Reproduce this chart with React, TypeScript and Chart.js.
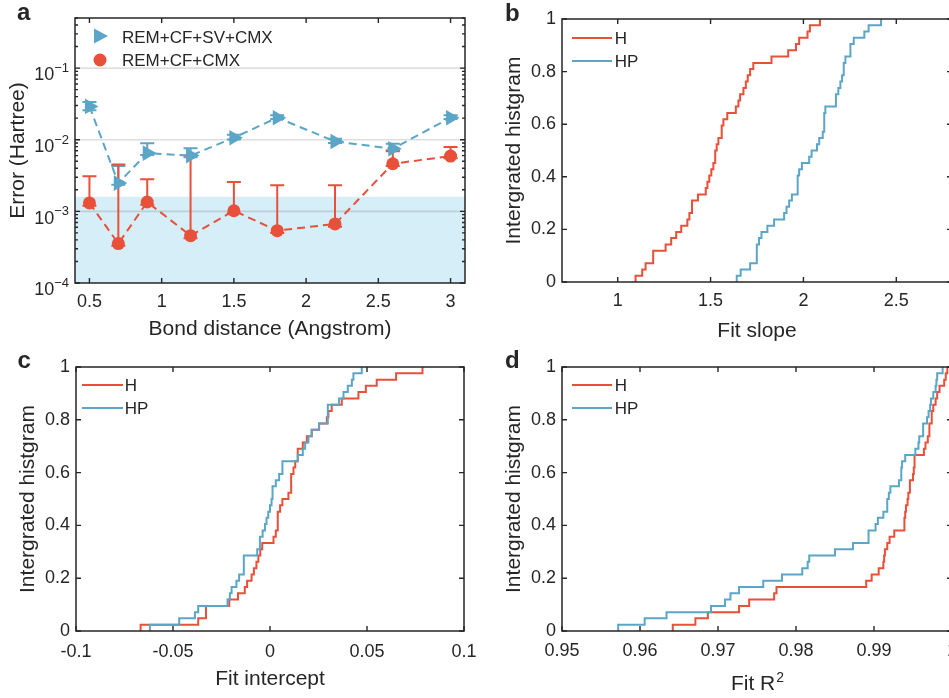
import React, { useEffect, useRef } from 'react';
import { Chart, registerables } from 'chart.js';

Chart.register(...registerables);

const FONT = '"Liberation Sans", Arial, Helvetica, sans-serif';
const INK = '#262626';
const RED = '#e8503a';
const BLUE = '#5ba6c6';
const SHADE = '#d6eef8';

// ---------- Panel a ----------
const SERIES_A = ['REM+CF+SV+CMX', 'REM+CF+CMX'];
const BOND_DISTANCE = [0.5, 0.7, 0.9, 1.2, 1.5, 1.8, 2.2, 2.6, 3.0];
const ERR_SV = [0.0292, 0.00248, 0.0065, 0.006, 0.01066, 0.0203, 0.00946, 0.00749, 0.0203];
const ERR_SV_HIGH = [0.0336, 0.0043, 0.0089, 0.0076, 0.0117, 0.0219, 0.0103, 0.0088, 0.0219];
const ERR_SV_LOW = [0.0257, 0.00235, 0.0061, 0.0057, 0.0101, 0.0194, 0.009, 0.0071, 0.0194];
const ERR_CMX = [0.00131, 0.000355, 0.00135, 0.000458, 0.00102, 0.000538, 0.000667, 0.00462, 0.00591];
const ERR_CMX_HIGH = [0.00308, 0.00452, 0.0028, 0.006, 0.00256, 0.00231, 0.00231, 0.00693, 0.00789];
const ERR_CMX_LOW = [0.0012, 0.00033, 0.00124, 0.00042, 0.00094, 0.0005, 0.00061, 0.0043, 0.0055];
const CHEM_ACCURACY = 1.6e-3;
const LOG_DECADES = [1e-4, 1e-3, 1e-2, 1e-1];
const LOG_EXPONENTS = ['\u22124', '\u22123', '\u22122', '\u22121'];
const A_X_TICKS = [0.5, 1, 1.5, 2, 2.5, 3];
const A_X_LABELS = ['0.5', '1', '1.5', '2', '2.5', '3'];

// ---------- Common for b, c, d ----------
const STEP_SERIES = ['H', 'HP'];
const HIST_TICKS = [0, 0.2, 0.4, 0.6, 0.8, 1];
const HIST_LABELS = ['0', '0.2', '0.4', '0.6', '0.8', '1'];

// ---------- Panel b (Fit slope) ----------
const B_X_TICKS = [1, 1.5, 2, 2.5];
const B_X_LABELS = ['1', '1.5', '2', '2.5'];
const B_H_X = [1.096, 1.096, 1.132, 1.15, 1.191, 1.258, 1.288, 1.315, 1.342, 1.375, 1.386, 1.4, 1.432, 1.474, 1.483, 1.493, 1.504, 1.515, 1.525, 1.533, 1.542, 1.56, 1.569, 1.59, 1.636, 1.65, 1.659, 1.677, 1.69, 1.7, 1.713, 1.73, 1.828, 1.918, 1.96, 1.977, 2.022, 2.035, 2.089];
const B_H_Y = [0, 0.024, 0.048, 0.071, 0.119, 0.143, 0.167, 0.19, 0.214, 0.238, 0.262, 0.31, 0.333, 0.357, 0.381, 0.405, 0.429, 0.452, 0.5, 0.524, 0.548, 0.595, 0.619, 0.643, 0.667, 0.69, 0.714, 0.738, 0.762, 0.786, 0.81, 0.833, 0.857, 0.881, 0.905, 0.929, 0.952, 0.976, 1.0];
const B_HP_X = [1.641, 1.641, 1.662, 1.713, 1.749, 1.761, 1.774, 1.806, 1.842, 1.896, 1.909, 1.923, 1.938, 1.969, 1.977, 1.992, 2.031, 2.044, 2.073, 2.085, 2.104, 2.112, 2.118, 2.175, 2.188, 2.199, 2.208, 2.217, 2.226, 2.253, 2.271, 2.328, 2.351, 2.418];
const B_HP_Y = [0, 0.024, 0.048, 0.071, 0.143, 0.167, 0.19, 0.214, 0.238, 0.262, 0.286, 0.31, 0.333, 0.405, 0.429, 0.452, 0.476, 0.5, 0.524, 0.548, 0.571, 0.643, 0.667, 0.714, 0.738, 0.762, 0.786, 0.833, 0.857, 0.905, 0.929, 0.952, 0.976, 1.0];

// ---------- Panel c (Fit intercept) ----------
const C_X_TICKS = [-0.1, -0.05, 0, 0.05, 0.1];
const C_X_LABELS = ['-0.1', '-0.05', '0', '0.05', '0.1'];
const C_H_X = [-0.0667, -0.0667, -0.037, -0.033, -0.021, -0.0165, -0.013, -0.0118, -0.0095, -0.0083, -0.007, -0.006, -0.005, -0.004, 0.0018, 0.003, 0.004, 0.0052, 0.0064, 0.0095, 0.0109, 0.0121, 0.013, 0.0143, 0.0169, 0.019, 0.0215, 0.0253, 0.0293, 0.0301, 0.0318, 0.037, 0.0456, 0.0494, 0.055, 0.065, 0.0786];
const C_H_Y = [0, 0.024, 0.048, 0.095, 0.119, 0.143, 0.167, 0.19, 0.214, 0.238, 0.262, 0.286, 0.31, 0.333, 0.357, 0.381, 0.452, 0.476, 0.5, 0.524, 0.595, 0.619, 0.643, 0.69, 0.714, 0.738, 0.762, 0.786, 0.81, 0.833, 0.857, 0.881, 0.905, 0.929, 0.952, 0.976, 1.0];
const C_HP_X = [-0.0619, -0.0619, -0.0468, -0.0387, -0.037, -0.0219, -0.0207, -0.0198, -0.0173, -0.0159, -0.0135, -0.0066, -0.0052, -0.0038, -0.0026, -0.0018, -0.0009, 0.0, 0.0008, 0.0013, 0.003, 0.0047, 0.0064, 0.0143, 0.0169, 0.0181, 0.0198, 0.0215, 0.0253, 0.0298, 0.0356, 0.0379, 0.0401, 0.0422, 0.043, 0.0473];
const C_HP_Y = [0, 0.024, 0.048, 0.071, 0.095, 0.119, 0.143, 0.167, 0.19, 0.214, 0.286, 0.31, 0.357, 0.381, 0.405, 0.429, 0.452, 0.476, 0.5, 0.548, 0.571, 0.595, 0.643, 0.667, 0.69, 0.714, 0.738, 0.762, 0.786, 0.857, 0.881, 0.905, 0.929, 0.952, 0.976, 1.0];

// ---------- Panel d (Fit R^2) ----------
const D_X_TICKS = [0.95, 0.96, 0.97, 0.98, 0.99, 1.0];
const D_X_LABELS = ['0.95', '0.96', '0.97', '0.98', '0.99', '1'];
const D_H_X = [0.9642, 0.9642, 0.9671, 0.9687, 0.9727, 0.974, 0.9772, 0.9775, 0.989, 0.9897, 0.9906, 0.9912, 0.9913, 0.9914, 0.9917, 0.992, 0.9926, 0.9939, 0.994, 0.9941, 0.9943, 0.9944, 0.9946, 0.995, 0.9951, 0.9952, 0.9964, 0.9966, 0.9969, 0.9971, 0.9974, 0.9976, 0.9979, 0.9981, 0.9984, 0.999, 0.9992, 0.9994];
const D_H_Y = [0, 0.024, 0.048, 0.071, 0.095, 0.119, 0.143, 0.167, 0.19, 0.214, 0.238, 0.262, 0.286, 0.31, 0.333, 0.357, 0.381, 0.429, 0.452, 0.476, 0.5, 0.524, 0.571, 0.595, 0.619, 0.667, 0.69, 0.714, 0.738, 0.786, 0.833, 0.857, 0.881, 0.905, 0.929, 0.952, 0.976, 1.0];
const D_HP_X = [0.9572, 0.9572, 0.9606, 0.9634, 0.9691, 0.9709, 0.9716, 0.9727, 0.9758, 0.9782, 0.9808, 0.9815, 0.9817, 0.985, 0.9873, 0.9893, 0.9902, 0.9905, 0.9912, 0.9917, 0.9919, 0.9921, 0.9932, 0.9935, 0.9936, 0.994, 0.9953, 0.9957, 0.9958, 0.9963, 0.9968, 0.997, 0.9972, 0.9973, 0.9976, 0.9979, 0.998, 0.9981, 0.9988];
const D_HP_Y = [0, 0.024, 0.048, 0.071, 0.095, 0.119, 0.143, 0.167, 0.19, 0.214, 0.238, 0.262, 0.286, 0.31, 0.333, 0.381, 0.405, 0.429, 0.452, 0.5, 0.524, 0.548, 0.571, 0.619, 0.643, 0.667, 0.69, 0.714, 0.738, 0.786, 0.81, 0.833, 0.857, 0.881, 0.905, 0.929, 0.952, 0.976, 1.0];

// ---------- helpers ----------
const fitX = (h: number) => (s: any) => {
  s.height = h;
  s.paddingLeft = 0; s.paddingRight = 0; s.paddingTop = 0; s.paddingBottom = 0;
};
const fitY = (w: number) => (s: any) => {
  s.width = w;
  s.paddingLeft = 0; s.paddingRight = 0; s.paddingTop = 0; s.paddingBottom = 0;
};

function linScale(axis: 'x' | 'y', min: number, max: number, ticks: number[], labels: string[], pad: number, size: number) {
  return {
    type: 'linear',
    min,
    max,
    grid: { display: false, drawTicks: false },
    border: { display: false },
    ticks: {
      font: { family: FONT, size: 18 },
      color: INK,
      padding: pad,
      maxRotation: 0,
      minRotation: 0,
      autoSkip: false,
      callback: (_v: any, i: number) => labels[i] ?? '',
    },
    afterBuildTicks: (s: any) => {
      s.ticks = ticks.map((v) => ({ value: v }));
    },
    afterFit: axis === 'x' ? fitX(size) : fitY(size),
  };
}

function baseOptions(top: number, right: number, scales: any) {
  return {
    responsive: false,
    maintainAspectRatio: false,
    animation: false,
    devicePixelRatio: 1,
    events: [],
    layout: { padding: { left: 0, top, right, bottom: 0 } },
    plugins: { legend: { display: false }, tooltip: { enabled: false } },
    scales,
  };
}

function stepDataset(label: string, xs: number[], ys: number[], color: string, order: number) {
  return {
    label,
    data: xs.map((x, i) => ({ x, y: ys[i] })),
    borderColor: color,
    backgroundColor: color,
    borderWidth: 2,
    pointRadius: 0,
    stepped: 'before',
    fill: false,
    order,
    clip: false,
  };
}

type FrameOpts = {
  xTicks: number[];
  yTicks: number[];
  yMinor?: number[];
  xTitle: string;
  xTitleSup?: string;
  xTitleBase: number;
  yTitle: string;
  yTitleX: number;
  letter: string;
  letterX: number;
  letterBase: number;
  legend: (ctx: CanvasRenderingContext2D) => void;
  logLabels?: boolean;
};

function framePlugin(o: FrameOpts) {
  return {
    id: 'frame',
    afterDraw(chart: any) {
      const { ctx, chartArea: a, scales } = chart;
      const sx = scales.x;
      const sy = scales.y;
      ctx.save();
      ctx.strokeStyle = INK;
      ctx.lineWidth = 1.5;
      ctx.strokeRect(a.left, a.top, a.right - a.left, a.bottom - a.top);
      ctx.lineWidth = 1.4;
      ctx.beginPath();
      for (const v of o.xTicks) {
        const p = sx.getPixelForValue(v);
        ctx.moveTo(p, a.bottom); ctx.lineTo(p, a.bottom - 5);
        ctx.moveTo(p, a.top); ctx.lineTo(p, a.top + 5);
      }
      for (const v of o.yTicks) {
        const p = sy.getPixelForValue(v);
        ctx.moveTo(a.left, p); ctx.lineTo(a.left + 5, p);
        ctx.moveTo(a.right, p); ctx.lineTo(a.right - 5, p);
      }
      for (const v of o.yMinor || []) {
        const p = sy.getPixelForValue(v);
        ctx.moveTo(a.left, p); ctx.lineTo(a.left + 3, p);
        ctx.moveTo(a.right, p); ctx.lineTo(a.right - 3, p);
      }
      ctx.stroke();

      ctx.fillStyle = INK;
      if (o.logLabels) {
        const rightX = a.left - 6;
        LOG_DECADES.forEach((v, i) => {
          const p = sy.getPixelForValue(v);
          ctx.font = `13px ${FONT}`;
          const exp = LOG_EXPONENTS[i];
          const ew = ctx.measureText(exp).width;
          ctx.textAlign = 'left';
          ctx.textBaseline = 'alphabetic';
          ctx.fillText(exp, rightX - ew, p + 4);
          ctx.font = `18px ${FONT}`;
          ctx.textAlign = 'right';
          ctx.fillText('10', rightX - ew, p + 12.3);
        });
      }

      const cx = (a.left + a.right) / 2;
      ctx.textBaseline = 'alphabetic';
      ctx.font = `21px ${FONT}`;
      const mainW = ctx.measureText(o.xTitle).width;
      let supW = 0;
      if (o.xTitleSup) {
        ctx.font = `14px ${FONT}`;
        supW = ctx.measureText(o.xTitleSup).width;
      }
      const startX = cx - (mainW + supW) / 2;
      ctx.font = `21px ${FONT}`;
      ctx.textAlign = 'left';
      ctx.fillText(o.xTitle, startX, o.xTitleBase);
      if (o.xTitleSup) {
        ctx.font = `14px ${FONT}`;
        ctx.fillText(o.xTitleSup, startX + mainW + 1, o.xTitleBase - 8.5);
      }

      ctx.save();
      ctx.translate(o.yTitleX, (a.top + a.bottom) / 2);
      ctx.rotate(-Math.PI / 2);
      ctx.font = `21px ${FONT}`;
      ctx.textAlign = 'center';
      ctx.fillText(o.yTitle, 0, 0);
      ctx.restore();

      ctx.font = `bold 24px ${FONT}`;
      ctx.textAlign = 'left';
      ctx.fillText(o.letter, o.letterX, o.letterBase);

      o.legend(ctx);
      ctx.restore();
    },
  };
}

function lineLegend(x0: number, x1: number, textX: number, y1: number, y2: number) {
  return (ctx: CanvasRenderingContext2D) => {
    const cols = [RED, BLUE];
    const ys = [y1, y2];
    ctx.lineWidth = 2;
    cols.forEach((c, i) => {
      ctx.strokeStyle = c;
      ctx.beginPath();
      ctx.moveTo(x0, ys[i]);
      ctx.lineTo(x1, ys[i]);
      ctx.stroke();
    });
    ctx.fillStyle = INK;
    ctx.font = `17px ${FONT}`;
    ctx.textAlign = 'left';
    ctx.textBaseline = 'alphabetic';
    STEP_SERIES.forEach((s, i) => ctx.fillText(s, textX, ys[i] + 6.3));
  };
}

function makeA() {
  const minor: number[] = [];
  for (const d of LOG_DECADES) {
    for (let m = 2; m <= 9; m++) if (m * d <= 0.5) minor.push(m * d);
  }
  const errorBars = {
    id: 'errbars',
    beforeDatasetsDraw(chart: any) {
      const { ctx, chartArea: a, scales } = chart;
      const sx = scales.x;
      const sy = scales.y;
      ctx.save();
      const yb = sy.getPixelForValue(CHEM_ACCURACY);
      ctx.fillStyle = SHADE;
      ctx.fillRect(a.left, yb, a.right - a.left, a.bottom - yb);
      ctx.strokeStyle = 'rgba(0,0,0,0.13)';
      ctx.lineWidth = 1.6;
      ctx.beginPath();
      for (const v of LOG_DECADES.slice(1)) {
        const p = sy.getPixelForValue(v);
        ctx.moveTo(a.left, p);
        ctx.lineTo(a.right, p);
      }
      ctx.stroke();
      const sets = [
        { lo: ERR_SV_LOW, hi: ERR_SV_HIGH, c: BLUE },
        { lo: ERR_CMX_LOW, hi: ERR_CMX_HIGH, c: RED },
      ];
      ctx.lineWidth = 2;
      for (const s of sets) {
        ctx.strokeStyle = s.c;
        ctx.beginPath();
        BOND_DISTANCE.forEach((x, i) => {
          const px = sx.getPixelForValue(x);
          const pl = sy.getPixelForValue(s.lo[i]);
          const ph = sy.getPixelForValue(s.hi[i]);
          ctx.moveTo(px, pl); ctx.lineTo(px, ph);
          ctx.moveTo(px - 7, ph); ctx.lineTo(px + 7, ph);
          ctx.moveTo(px - 7, pl); ctx.lineTo(px + 7, pl);
        });
        ctx.stroke();
      }
      ctx.restore();
    },
  };
  const legend = (ctx: CanvasRenderingContext2D) => {
    ctx.fillStyle = BLUE;
    ctx.beginPath();
    ctx.moveTo(108, 36);
    ctx.lineTo(94, 28.5);
    ctx.lineTo(94, 43.5);
    ctx.closePath();
    ctx.fill();
    ctx.fillStyle = RED;
    ctx.beginPath();
    ctx.arc(100, 60, 6.5, 0, Math.PI * 2);
    ctx.fill();
    ctx.fillStyle = INK;
    ctx.font = `17px ${FONT}`;
    ctx.textAlign = 'left';
    ctx.textBaseline = 'alphabetic';
    ctx.fillText(SERIES_A[0], 122, 43);
    ctx.fillText(SERIES_A[1], 122, 66);
  };
  return {
    type: 'line',
    data: {
      datasets: [
        {
          label: SERIES_A[1],
          data: BOND_DISTANCE.map((x, i) => ({ x, y: ERR_CMX[i] })),
          borderColor: RED,
          backgroundColor: RED,
          borderWidth: 2,
          borderDash: [8, 5],
          pointStyle: 'circle',
          pointRadius: 6.5,
          pointBorderWidth: 0,
          pointBackgroundColor: RED,
          fill: false,
          clip: false,
          order: 0,
        },
        {
          label: SERIES_A[0],
          data: BOND_DISTANCE.map((x, i) => ({ x, y: ERR_SV[i] })),
          borderColor: BLUE,
          backgroundColor: BLUE,
          borderWidth: 2,
          borderDash: [8, 5],
          pointStyle: 'triangle',
          pointRotation: 90,
          pointRadius: 9,
          pointBorderWidth: 0,
          pointBackgroundColor: BLUE,
          fill: false,
          clip: false,
          order: 1,
        },
      ],
    },
    options: baseOptions(18, 15, {
      x: linScale('x', 0.4, 3.1, A_X_TICKS, A_X_LABELS, 8, 62),
      y: {
        type: 'logarithmic',
        min: 1e-4,
        max: 0.5,
        grid: { display: false, drawTicks: false },
        border: { display: false },
        ticks: { display: false },
        afterFit: fitY(75),
      },
    }),
    plugins: [
      errorBars,
      framePlugin({
        xTicks: A_X_TICKS,
        yTicks: LOG_DECADES,
        yMinor: minor,
        xTitle: 'Bond distance (Angstrom)',
        xTitleBase: 335,
        yTitle: 'Error (Hartree)',
        yTitleX: 23.5,
        letter: 'a',
        letterX: 17,
        letterBase: 20,
        legend,
        logLabels: true,
      }),
    ],
  };
}

function makeStep(o: {
  hx: number[]; hy: number[]; px: number[]; py: number[];
  xmin: number; xmax: number; xt: number[]; xl: string[];
  top: number; right: number; yw: number; xh: number; xpad: number;
  xTitle: string; xTitleSup?: string; xTitleBase: number; yTitleX: number;
  letter: string; letterX: number; letterBase: number;
  leg: [number, number, number, number, number];
}) {
  return {
    type: 'line',
    data: {
      datasets: [
        stepDataset(STEP_SERIES[0], o.hx, o.hy, RED, 1),
        stepDataset(STEP_SERIES[1], o.px, o.py, BLUE, 0),
      ],
    },
    options: baseOptions(o.top, o.right, {
      x: linScale('x', o.xmin, o.xmax, o.xt, o.xl, o.xpad, o.xh),
      y: linScale('y', 0, 1, HIST_TICKS, HIST_LABELS, 6, o.yw),
    }),
    plugins: [
      framePlugin({
        xTicks: o.xt,
        yTicks: HIST_TICKS,
        xTitle: o.xTitle,
        xTitleSup: o.xTitleSup,
        xTitleBase: o.xTitleBase,
        yTitle: 'Intergrated histgram',
        yTitleX: o.yTitleX,
        letter: o.letter,
        letterX: o.letterX,
        letterBase: o.letterBase,
        legend: lineLegend(...o.leg),
      }),
    ],
  };
}

const makeB = () =>
  makeStep({
    hx: B_H_X, hy: B_H_Y, px: B_HP_X, py: B_HP_Y,
    xmin: 0.7, xmax: 2.8, xt: B_X_TICKS, xl: B_X_LABELS,
    top: 19, right: 8, yw: 82, xh: 63, xpad: 8,
    xTitle: 'Fit slope', xTitleBase: 336.5, yTitleX: 40,
    letter: 'b', letterX: 25, letterBase: 21,
    leg: [92, 132, 134.7, 38, 61],
  });

const makeC = () =>
  makeStep({
    hx: C_H_X, hy: C_H_Y, px: C_HP_X, py: C_HP_Y,
    xmin: -0.1, xmax: 0.1, xt: C_X_TICKS, xl: C_X_LABELS,
    top: 22, right: 16, yw: 76, xh: 67, xpad: 10,
    xTitle: 'Fit intercept', xTitleBase: 340, yTitleX: 34,
    letter: 'c', letterX: 17.5, letterBase: 23,
    leg: [82, 123, 124.7, 40, 63],
  });

const makeD = () =>
  makeStep({
    hx: D_H_X, hy: D_H_Y, px: D_HP_X, py: D_HP_Y,
    xmin: 0.95, xmax: 1.0, xt: D_X_TICKS, xl: D_X_LABELS,
    top: 22, right: 8, yw: 82, xh: 67, xpad: 9,
    xTitle: 'Fit R', xTitleSup: '2', xTitleBase: 345, yTitleX: 40,
    letter: 'd', letterX: 25, letterBase: 23,
    leg: [92, 132, 134.7, 40, 63],
  });

type PanelProps = { left: number; top: number; width: number; height: number; make: () => any };

function Panel({ left, top, width, height, make }: PanelProps) {
  const ref = useRef<HTMLCanvasElement | null>(null);
  useEffect(() => {
    if (!ref.current) return;
    const chart = new Chart(ref.current, make());
    return () => chart.destroy();
  }, [make]);
  return (
    <canvas
      ref={ref}
      width={width}
      height={height}
      style={{ position: 'absolute', left, top, width, height, display: 'block' }}
    />
  );
}

export default function App() {
  return (
    <div
      style={{
        position: 'absolute',
        left: 0,
        top: 0,
        width: 949,
        height: 698,
        overflow: 'hidden',
        background: '#ffffff',
      }}
    >
      <Panel left={0} top={0} width={480} height={345} make={makeA} />
      <Panel left={480} top={0} width={480} height={345} make={makeB} />
      <Panel left={0} top={345} width={480} height={353} make={makeC} />
      <Panel left={480} top={345} width={480} height={353} make={makeD} />
    </div>
  );
}
